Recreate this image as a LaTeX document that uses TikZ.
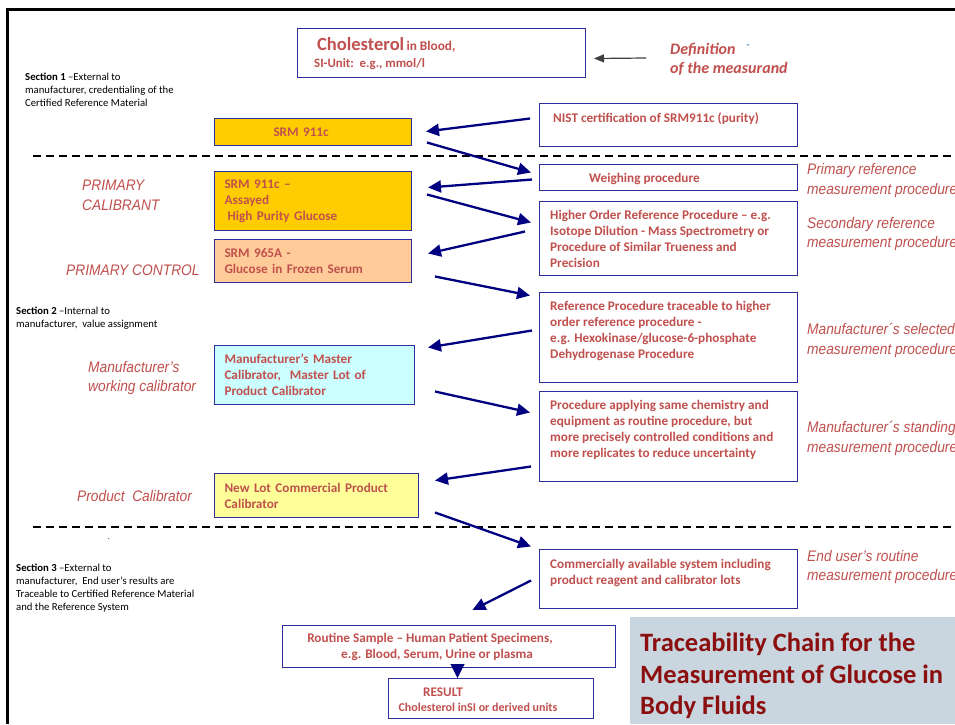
\documentclass[tikz,border=0pt]{standalone}
\usepackage{fontspec}
\setmainfont{Carlito}
\newfontfamily\labelfont[FakeStretch=0.9]{Liberation Sans}
\usetikzlibrary{arrows.meta,calc}

\definecolor{txtred}{HTML}{C0504D}
\definecolor{boxblue}{HTML}{2E2E9A}
\definecolor{arrnavy}{HTML}{000080}
\definecolor{gold}{HTML}{FFCC00}
\definecolor{peach}{HTML}{FFCC99}
\definecolor{paleaqua}{HTML}{CCFFFF}
\definecolor{paleyellow}{HTML}{FFFF99}
\definecolor{titlebg}{HTML}{C9D6E0}
\definecolor{titlered}{HTML}{8B0F0F}
\definecolor{dashblue}{HTML}{5B9BD5}

\tikzset{
  frame/.style={draw=boxblue, line width=1pt, inner sep=0pt, anchor=north west},
  lbox/.style={frame, text=txtred, font=\fontsize{13.2}{16}\selectfont\bfseries,
    align=left, inner xsep=10pt, inner ysep=0pt},
  btext/.style={text=txtred, font=\fontsize{13.2}{16}\selectfont\bfseries,
    align=left, anchor=north west, inner sep=0pt},
  role/.style={text=txtred, font=\labelfont\itshape\fontsize{15.3}{19.5}\selectfont,
    align=left, anchor=west, inner sep=0pt},
  sect/.style={font=\fontsize{10.7}{13}\selectfont, align=left, anchor=north west, inner sep=0pt},
  flow/.style={draw=arrnavy, line width=2.3pt, -{Triangle[length=13pt,width=12pt]}},
  sepline/.style={dash pattern=on 8pt off 5pt, line width=1.4pt},
}

\begin{document}
\begin{tikzpicture}[x=1pt,y=-1pt]
\clip (0,0) rectangle (955,724);
\fill[white] (0,0) rectangle (955,724);

% page edges
\draw[line width=3pt] (6,9) -- (955,9);
\draw[line width=3pt] (7.5,8) -- (7.5,724);

% measurand definition
\node[frame, minimum width=288pt, minimum height=49pt] (chol) at (297,28) {};
\node[anchor=west, inner sep=0pt, text=txtred, font=\bfseries] (cholT1) at (317,45)
  {{\fontsize{18.5}{20}\selectfont Cholesterol} {\fontsize{13.3}{15}\selectfont in Blood,}};
\node[anchor=west, inner sep=0pt, text=txtred, font=\fontsize{12.8}{15}\selectfont\bfseries] (cholT2) at (314,64)
  {SI-Unit:\ \ e.g., mmol/l};
\coordinate (defsrc) at (646,58);
\draw[line width=1.2pt, draw=black!75, -{Triangle[length=10pt,width=8pt]}] (defsrc) -- ($(chol.east)+(8,5.5)$);
\node[anchor=west, inner sep=0pt, text=txtred, font=\fontsize{16}{19}\selectfont\bfseries\itshape, align=left] (defT) at (670,59.5)
  {Definition\\of the measurand};
\node[anchor=center, inner sep=0pt, text=dashblue, font=\fontsize{11}{12}\selectfont\bfseries] (defdash) at (748,47) {-};

% section notes
\node[sect] (sec1) at (25,72.5) {\textbf{Section 1} –External to\\manufacturer, credentialing of the\\Certified Reference Material};
\node[sect] (sec2) at (16,306.5) {\textbf{Section 2} –Internal to\\manufacturer,\ \ value assignment};
\node[sect] (sec3) at (16,563.5) {\textbf{Section 3} –External to\\manufacturer,\ \ End user’s results are\\Traceable to Certified Reference Material\\and the Reference System};
\node[inner sep=0pt, font=\fontsize{8}{9}\selectfont] (dot) at (109,539) {.};

% separators
\draw[sepline] (33,156) -- (955,156);
\draw[sepline] (33,527) -- (955,527);

% materials (left column)
\node[lbox, fill=gold, text width=177pt, minimum height=27pt] (srm1) at (214,118) {\hspace*{49pt}SRM 911c};
\node[lbox, fill=gold, text width=177pt, minimum height=59pt] (srmb) at (214,171)
  {SRM 911c –\\Assayed\\\hspace*{3pt}High Purity Glucose};
\node[lbox, fill=peach, text width=177pt, minimum height=43pt] (srmc) at (214,239)
  {SRM 965A -\\Glucose in Frozen Serum};
\node[lbox, fill=paleaqua, text width=180pt, minimum height=59pt] (mast) at (214,345)
  {Manufacturer’s Master\\Calibrator,\ \ Master Lot of\\Product Calibrator};
\node[lbox, fill=paleyellow, text width=184pt, minimum height=44pt] (newlot) at (214,473)
  {New Lot Commercial Product\\Calibrator};

% procedures (right column)
\node[frame, minimum width=258pt, minimum height=43pt] (nist) at (539,103) {};
\node[btext] (nistT) at (553,112) {NIST certification of SRM911c (purity)};
\node[frame, minimum width=258pt, minimum height=26pt] (weigh) at (539,164) {};
\node[btext] (weighT) at (589,173) {Weighing procedure};
\node[frame, minimum width=258pt, minimum height=74pt] (higher) at (539,201) {};
\node[btext] (higherT) at (550,210) {Higher Order Reference Procedure – e.g.\\Isotope Dilution - Mass Spectrometry or\\Procedure of Similar Trueness and\\Precision};
\node[frame, minimum width=258pt, minimum height=90pt] (ref) at (539,292) {};
\node[btext] (refT) at (550,301) {Reference Procedure traceable to higher\\order reference procedure -\\e.g. Hexokinase/glucose-6-phosphate\\Dehydrogenase Procedure};
\node[frame, minimum width=258pt, minimum height=90pt] (proc) at (539,391) {};
\node[btext] (procT) at (550,400) {Procedure applying same chemistry and\\equipment as routine procedure, but\\more precisely controlled conditions and\\more replicates to reduce uncertainty};
\node[frame, minimum width=258pt, minimum height=59pt] (comm) at (539,549) {};
\node[btext] (commT) at (550,559) {Commercially available system including\\product reagent and calibrator lots};

% routine use and result
\node[frame, minimum width=333pt, minimum height=42pt] (routine) at (282,625) {};
\node[btext, align=center, anchor=center] (routineT) at (430,647) {Routine Sample – Human Patient Specimens,\\\hspace*{14pt}e.g. Blood, Serum, Urine or plasma};
\node[frame, minimum width=205pt, minimum height=40pt] (result) at (388,678) {};
\node[btext, anchor=center] (resT1) at (443,692) {RESULT};
\node[btext, anchor=center, font=\fontsize{12}{14}\selectfont\bfseries] (resT2) at (478,707) {Cholesterol inSI or derived units};

% roles of the materials
\node[role] (rPC) at (82,195.5) {PRIMARY\\CALIBRANT};
\node[role] (rPCo) at (66,270) {PRIMARY CONTROL};
\node[role] (rMW) at (88,378) {Manufacturer’s\\working calibrator};
\node[role] (rPr) at (77,496) {Product\ \ Calibrator};

% kinds of procedure
\node[role] (kP) at (807,180.5) {Primary reference\\measurement procedure};
\node[role] (kS) at (807,234) {Secondary reference\\measurement procedure};
\node[role] (kMS) at (807,340.5) {Manufacturer´s selected\\measurement procedure};
\node[role] (kMT) at (807,438.5) {Manufacturer´s standing\\measurement procedure};
\node[role] (kE) at (807,567) {End user’s routine\\measurement procedure};

% title
\fill[titlebg] (630,617) rectangle (955,724);
\node[anchor=north west, inner sep=0pt, align=left, text=titlered,
  font=\fontsize{26.5}{31.5}\selectfont\bfseries] (title) at (640,633)
  {Traceability Chain for the\\Measurement of Glucose in\\Body Fluids};

% traceability chain
\draw[flow] ($(nist.west)+(-9,-6.5)$) -- ($(srm1.east)+(14,-0.5)$);
\draw[flow] ($(srm1.east)+(15,10.5)$) -- ($(weigh.west)+(-8,-5)$);
\draw[flow] ($(weigh.west)+(-7,2)$) -- ($(srmb.east)+(16,-13.5)$);
\draw[flow] ($(srmb.east)+(15,-6.5)$) -- ($(higher.west)+(-8,-16)$);
\draw[flow] ($(higher.west)+(-14,-7)$) -- ($(srmc.east)+(16,-7.5)$);
\draw[flow] ($(srmc.east)+(23,15.5)$) -- ($(ref.west)+(-9,-42)$);
\draw[flow] ($(ref.west)+(-7,-7)$) -- ($(mast.east)+(13,-27.5)$);
\draw[flow] ($(mast.east)+(20,16.5)$) -- ($(proc.west)+(-9,-24)$);
\draw[flow] ($(proc.west)+(-8,30)$) -- ($(newlot.east)+(16,-15)$);
\draw[flow] ($(newlot.east)+(16,17)$) -- ($(comm.west)+(-8,-32.5)$);
\draw[flow] ($(comm.west)+(-8,1.5)$) -- ($(routine.north)+(23.5,-15)$);
\draw[draw=arrnavy, line width=1pt, -{Triangle[length=14pt,width=14pt]}] ($(routine.south)+(8.5,-3)$) -- ($(result.north)+(-33.5,0)$);
\end{tikzpicture}
\end{document}
